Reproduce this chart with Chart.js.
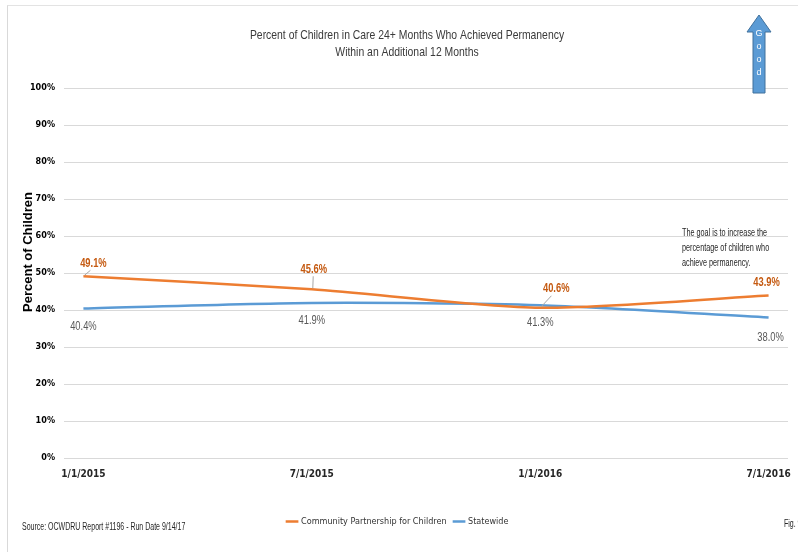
<!DOCTYPE html>
<html>
<head>
  <title>Percent of Children in Care 24+ Months Who Achieved Permanency</title>
  <script src="https://cdn.jsdelivr.net/npm/chart.js"></script>
  <style>
    body { margin: 0; background: #fff; }
    #wrap { position: relative; width: 798px; height: 552px; }
    #frame {
      position: absolute; left: 7px; top: 5px; right: 0; bottom: 0;
      border-left: 1px solid #d9d9d9; border-top: 1px solid #e3e3e3;
    }
    #chart { position: absolute; left: 0; top: 0; }
  </style>
</head>
<body>
  <div id="wrap">
    <div id="frame"></div>
    <canvas id="chart" width="798" height="552"></canvas>
  </div>

  <script>
    const dates = ["1/1/2015", "7/1/2015", "1/1/2016", "7/1/2016"];
    const cpcValues = [49.1, 45.6, 40.6, 43.9];
    const stateValues = [40.4, 41.9, 41.3, 38.0];
    const titleLines = [
      "Percent of Children in Care 24+ Months Who Achieved Permanency",
      "Within an Additional 12 Months"
    ];
    const noteLines = [
      "The goal is to increase the",
      "percentage of children who",
      "achieve permanency."
    ];

    const arial = "'Liberation Sans', Arial, sans-serif";
    const cond = "'DejaVu Sans Condensed', 'Liberation Sans', sans-serif";

    // label offsets (dx, dy from the point) and whether a leader line is drawn
    const cpcLabelPos = [[10, -13, true], [2, -20, true], [16, -19, true], [-2, -13, false]];
    const stateLabelPos = [[0, 18], [0, 18], [0, 17], [2, 20]];

    // draws text squeezed horizontally, like the narrow face in the original
    function squeeze(ctx, text, x, y, sx, align) {
      ctx.save();
      ctx.translate(x, y);
      ctx.scale(sx, 1);
      ctx.textAlign = align || "center";
      ctx.textBaseline = "middle";
      ctx.fillText(text, 0, 0);
      ctx.restore();
    }

    const extras = {
      id: "extras",
      afterDatasetsDraw(c) {
        const ctx = c.ctx;
        ctx.save();
        const m0 = c.getDatasetMeta(0);
        m0.data.forEach((p, i) => {
          const [dx, dy, lead] = cpcLabelPos[i];
          if (lead) {
            ctx.strokeStyle = "#a6a6a6";
            ctx.lineWidth = 1;
            ctx.beginPath();
            ctx.moveTo(p.x + 1, p.y - 1);
            ctx.lineTo(p.x + dx * 0.7, p.y + dy + 7);
            ctx.stroke();
          }
          ctx.fillStyle = "#c55a11";
          ctx.font = "bold 12px " + arial;
          squeeze(ctx, cpcValues[i].toFixed(1) + "%", p.x + dx, p.y + dy, 0.78);
        });
        const m1 = c.getDatasetMeta(1);
        ctx.fillStyle = "#595959";
        ctx.font = "12px " + arial;
        m1.data.forEach((p, i) => {
          const [dx, dy] = stateLabelPos[i];
          squeeze(ctx, stateValues[i].toFixed(1) + "%", p.x + dx, p.y + dy, 0.78);
        });
        ctx.restore();
      },
      afterDraw(c) {
        const ctx = c.ctx;
        ctx.save();
        // title
        ctx.fillStyle = "#3a3a3a";
        ctx.font = "13px " + arial;
        squeeze(ctx, titleLines[0], 407, 35, 0.8);
        squeeze(ctx, titleLines[1], 407, 52, 0.8);

        // y axis title
        ctx.save();
        ctx.translate(28, 252);
        ctx.rotate(-Math.PI / 2);
        ctx.fillStyle = "#000";
        ctx.font = "bold 13px " + arial;
        ctx.textAlign = "center";
        ctx.textBaseline = "middle";
        ctx.fillText("Percent of Children", 0, 0);
        ctx.restore();

        // note
        ctx.fillStyle = "#262626";
        ctx.font = "11px " + arial;
        noteLines.forEach((t, i) => squeeze(ctx, t, 682, 233 + i * 15, 0.66, "left"));

        // "Good" arrow
        ctx.fillStyle = "#5b9bd5";
        ctx.strokeStyle = "#41719c";
        ctx.lineWidth = 1;
        ctx.beginPath();
        ctx.moveTo(759, 15);
        ctx.lineTo(771, 32);
        ctx.lineTo(765, 32);
        ctx.lineTo(765, 93);
        ctx.lineTo(753, 93);
        ctx.lineTo(753, 32);
        ctx.lineTo(747, 32);
        ctx.closePath();
        ctx.fill();
        ctx.stroke();
        ctx.fillStyle = "#fff";
        ctx.font = "9px " + arial;
        ["G", "o", "o", "d"].forEach((ch, i) => squeeze(ctx, ch, 759, 34 + i * 13, 1));

        // footer
        ctx.fillStyle = "#262626";
        ctx.font = "10px " + arial;
        squeeze(ctx, "Source: OCWDRU Report #1196 - Run Date 9/14/17", 22, 527, 0.7, "left");
        squeeze(ctx, "Fig. 9", 784, 524, 0.7, "left");
        ctx.restore();
      }
    };

    new Chart(document.getElementById("chart"), {
      type: "line",
      data: {
        datasets: [
          {
            label: "Community Partnership for Children",
            data: cpcValues.map((v, i) => ({ x: i, y: v })),
            borderColor: "#ed7d31",
            backgroundColor: "#ed7d31",
            borderWidth: 2.5,
            pointRadius: 0,
            tension: 0.25
          },
          {
            label: "Statewide",
            data: stateValues.map((v, i) => ({ x: i, y: v })),
            borderColor: "#5b9bd5",
            backgroundColor: "#5b9bd5",
            borderWidth: 2.5,
            pointRadius: 0,
            tension: 0.25
          }
        ]
      },
      options: {
        responsive: false,
        animation: false,
        layout: { padding: { top: 88, left: 8, right: 10, bottom: 16 } },
        plugins: {
          title: { display: false },
          tooltip: { enabled: false },
          legend: {
            position: "bottom",
            labels: {
              usePointStyle: true,
              pointStyle: "line",
              boxWidth: 16,
              padding: 8,
              color: "#333",
              font: { size: 9, family: cond }
            }
          }
        },
        scales: {
          x: {
            type: "linear",
            min: -0.085,
            max: 3.085,
            grid: { display: false },
            border: { display: false },
            afterBuildTicks: s => { s.ticks = dates.map((d, i) => ({ value: i })); },
            afterFit: s => { s.height += 27; },
            ticks: {
              callback: v => dates[v],
              color: "#262626",
              font: { size: 10, weight: "bold", family: cond },
              maxRotation: 0,
              padding: 2
            }
          },
          y: {
            min: 0,
            max: 100,
            afterFit: s => { s.width = 56; },
            grid: { color: "#d9d9d9", drawTicks: false },
            border: { display: false },
            ticks: {
              stepSize: 10,
              callback: v => v + "%",
              color: "#000",
              font: { size: 9, weight: "bold", family: cond },
              padding: 9
            }
          }
        }
      },
      plugins: [extras]
    });
  </script>
</body>
</html>
